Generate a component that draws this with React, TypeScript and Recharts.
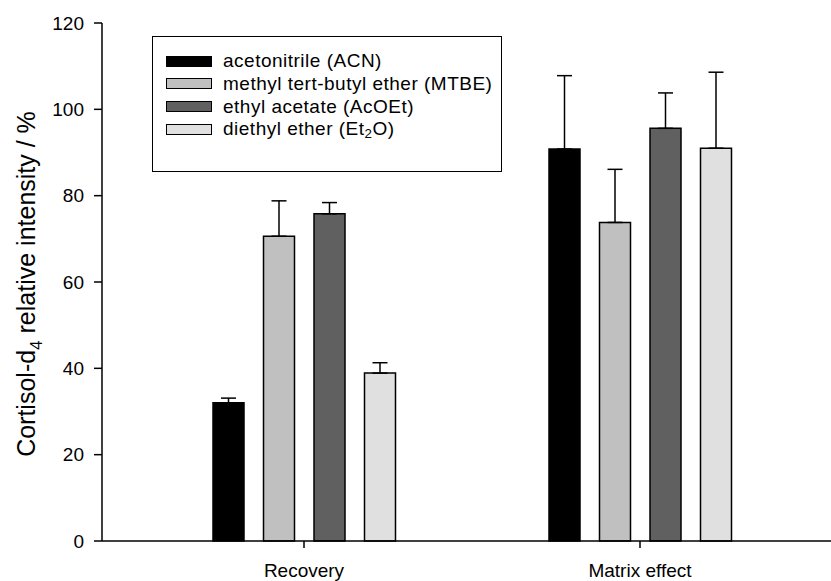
import React from 'react';
import { BarChart, Bar, XAxis, YAxis, ErrorBar, Legend, Label } from 'recharts';

const categories = ['Recovery', 'Matrix effect'];
const acn = [32.0, 90.8];
const acnErr = [1.1, 17.0];
const mtbe = [70.6, 73.8];
const mtbeErr = [8.2, 12.3];
const acoet = [75.8, 95.6];
const acoetErr = [2.6, 8.2];
const et2o = [38.9, 91.0];
const et2oErr = [2.4, 17.6];
const yTicks = [0, 20, 40, 60, 80, 100, 120];

const seriesKeys = ['acn', 'mtbe', 'acoet', 'et2o'];
const seriesColors = ['#000000', '#c0c0c0', '#606060', '#e0e0e0'];
const legendNames: React.ReactNode[] = [
  'acetonitrile (ACN)',
  'methyl tert-butyl ether (MTBE)',
  'ethyl acetate (AcOEt)',
  <span key="e">diethyl ether (Et<sub style={{ fontSize: '0.7em', verticalAlign: '-0.25em' }}>2</sub>O)</span>,
];

const data = categories.map((c, i) => ({
  name: c,
  acn: acn[i],
  acnE: [0, acnErr[i]],
  mtbe: mtbe[i],
  mtbeE: [0, mtbeErr[i]],
  acoet: acoet[i],
  acoetE: [0, acoetErr[i]],
  et2o: et2o[i],
  et2oE: [0, et2oErr[i]],
}));

const FONT = '"Liberation Sans", Arial, sans-serif';

const LegendBox = () => (
  <div
    style={{
      position: 'relative',
      width: 350,
      height: 136,
      border: '1.5px solid #000',
      boxSizing: 'border-box',
      background: '#fff',
      fontFamily: FONT,
      fontSize: 19,
      letterSpacing: 0.5,
      color: '#000',
    }}
  >
    {seriesKeys.map((k, i) => (
      <div
        key={k}
        style={{
          position: 'absolute',
          left: 13,
          top: 13 + i * 22.8,
          height: 22,
          display: 'flex',
          alignItems: 'center',
          whiteSpace: 'nowrap',
        }}
      >
        <div
          style={{
            width: 46,
            height: 11,
            background: seriesColors[i],
            border: '1.5px solid #000',
            boxSizing: 'border-box',
            marginRight: 11,
          }}
        />
        <span>{legendNames[i]}</span>
      </div>
    ))}
  </div>
);

const YLabel = () => (
  <text
    transform="translate(35,284) rotate(-90)"
    textAnchor="middle"
    fontFamily={FONT}
    fontSize={25}
    fill="#000"
  >
    Cortisol-d
    <tspan dy={7} fontSize={17}>4</tspan>
    <tspan dy={-7}> relative intensity / %</tspan>
  </text>
);

export default function App() {
  return (
    <div style={{ position: 'absolute', left: 0, top: 0, width: 831, height: 581, background: '#fff' }}>
      <BarChart
        width={831}
        height={581}
        data={data}
        margin={{ top: 23, right: 0, bottom: 10, left: 0 }}
        barSize={31}
        barGap={19.5}
      >
        <XAxis
          dataKey="name"
          height={30}
          padding={{ left: 34, right: 23 }}
          axisLine={{ stroke: '#000', strokeWidth: 1.5 }}
          tickLine={{ stroke: '#000', strokeWidth: 1.5 }}
          tickSize={7}
          tickMargin={16}
          tick={{ fill: '#000', fontSize: 19, fontFamily: FONT }}
        />
        <YAxis
          width={102}
          domain={[0, 120]}
          ticks={yTicks}
          interval={0}
          axisLine={{ stroke: '#000', strokeWidth: 1.5 }}
          tickLine={{ stroke: '#000', strokeWidth: 1.5 }}
          tickSize={8}
          tickMargin={10}
          tick={{ fill: '#000', fontSize: 19, fontFamily: FONT }}
        >
          <Label content={<YLabel />} />
        </YAxis>
        <Legend
          layout="vertical"
          align="center"
          verticalAlign="middle"
          content={<LegendBox />}
          wrapperStyle={{ position: 'absolute', left: 152, top: 36, width: 350, height: 136 }}
        />
        {seriesKeys.map((k, i) => (
          <Bar
            key={k}
            dataKey={k}
            fill={seriesColors[i]}
            stroke="#000"
            strokeWidth={1.5}
            isAnimationActive={false}
          >
            <ErrorBar dataKey={k + 'E'} width={7.5} stroke="#000" strokeWidth={1.5} direction="y" />
          </Bar>
        ))}
      </BarChart>
    </div>
  );
}
